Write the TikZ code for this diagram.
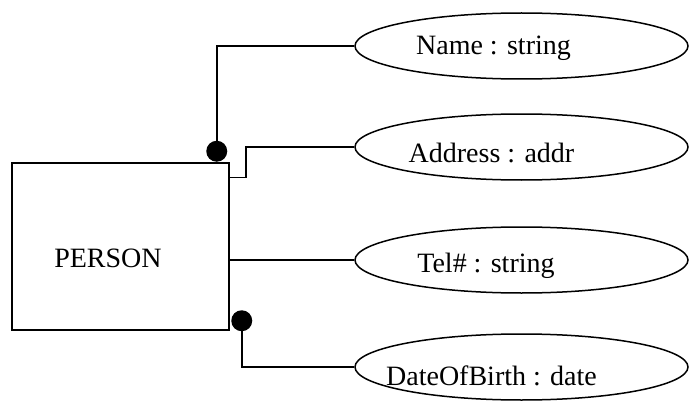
\documentclass[tikz,border=0pt]{standalone}
\usepackage{fontspec}
\setmainfont{Liberation Serif}
\usetikzlibrary{shapes.geometric, calc}

\begin{document}
\begin{tikzpicture}[
    x=1pt, y=1pt,
    font=\fontsize{28}{34}\selectfont,
    entitybox/.style={
        draw=black, line width=1.5pt, inner sep=0pt,
        minimum width=217pt, minimum height=167pt,
        text height=#1, text depth=0pt
    },
    attrib/.style={
        draw=black, ellipse, line width=1.5pt, inner sep=0pt,
        minimum width=333pt, minimum height=66pt,
        text height=#1, text depth=0pt
    },
    keydot/.style={
        circle, fill=black, inner sep=0pt, minimum size=21pt
    },
    link/.style={line width=1.5pt}
]
\useasboundingbox (0,0) rectangle (689,400);

% --- Entity ---
\node[entitybox=42pt] (person) at (120.5,153.5) {PERSON\hspace*{25pt}};

% --- Attributes ---
\node[attrib=18pt] (nameatt) at (521.5,354) {\makebox[0pt]{Name : string\hspace*{56pt}}};
\node[attrib=31pt] (addratt) at (521.5,253) {\makebox[0pt]{Address : addr\hspace*{60pt}}};
\node[attrib=25pt] (telatt)  at (521.5,140) {\makebox[0pt]{Tel\# : string\hspace*{71pt}}};
\node[attrib=36pt] (dobatt)  at (521.5,33)  {\makebox[0pt]{DateOfBirth : date\hspace*{60pt}}};

% --- Key dots and stubs ---
\node[keydot] (namedot) at ($(person.north east)+(-13,11)$) {};
\node[keydot] (dobdot)  at ($(person.south east)+(12,10)$) {};
\coordinate (addrstub) at ($(person.north east)+(0,-15.3)$);

% --- Links ---
\draw[link] (namedot.center) |- (nameatt.west);
\draw[link] (addrstub) -- ++(16,0) |- (addratt.west);
\draw[link] (person.east |- telatt.west) -- (telatt.west);
\draw[link] (dobdot.center) |- (dobatt.west);

\end{tikzpicture}
\end{document}
